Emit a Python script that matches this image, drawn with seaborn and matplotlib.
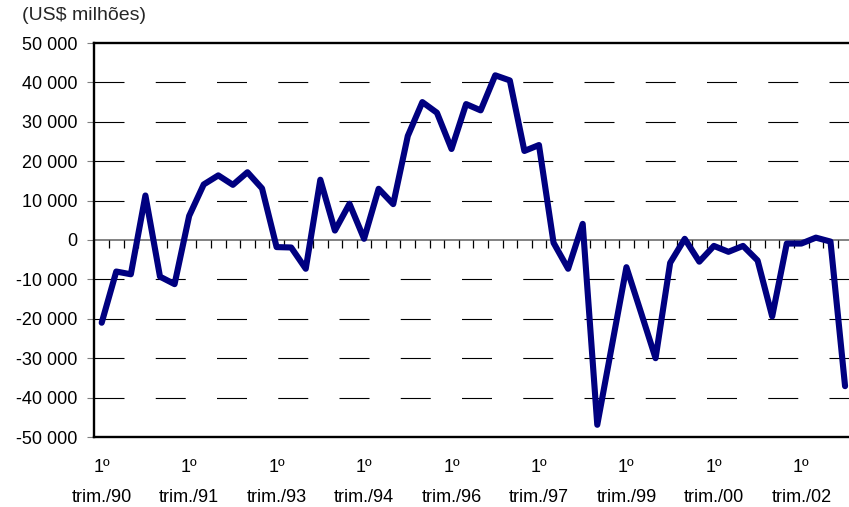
import pandas as pd
import numpy as np
import matplotlib
matplotlib.use('Agg')
import matplotlib.pyplot as plt
import seaborn as sns

# quarterly balance, 1990 Q1 .. 2002 Q4 (US$ millions)
quarters = list(range(52))
saldo = [-21000, -8000, -8700, 11300, -9300, -11200, 6100, 14100, 16400, 14000,
         17200, 13100, -1800, -1900, -7300, 15300, 2400, 9200, 300, 13000,
         9100, 26400, 35000, 32300, 23100, 34500, 32900, 41800, 40500, 22600,
         24100, -700, -7300, 4100, -46900, -26900, -6900, -18400, -30000, -5800,
         300, -5500, -1500, -3000, -1500, -5200, -19400, -900, -900, 600,
         -400, -37100]

tick_pos = [0, 6, 12, 18, 24, 30, 36, 42, 48]
tick_lab = ['1º\ntrim./90', '1º\ntrim./91', '1º\ntrim./93', '1º\ntrim./94',
            '1º\ntrim./96', '1º\ntrim./97', '1º\ntrim./99', '1º\ntrim./00',
            '1º\ntrim./02']
y_ticks = list(range(-50000, 50001, 10000))

df = pd.DataFrame({'trimestre': quarters, 'saldo': saldo})

sns.set_theme(style='white')
plt.rcParams['font.family'] = ['Liberation Sans', 'DejaVu Sans']
plt.rcParams['lines.scale_dashes'] = False

fig = plt.figure(figsize=(8.49, 5.07), dpi=100)
ax = fig.add_axes([94.4 / 849, (507 - 437) / 507, (849 - 94.4) / 849, (437 - 43) / 507])

# dashed horizontal grid (not on the frame / zero line)
for v in y_ticks:
    if v in (-50000, 0, 50000):
        continue
    ax.axhline(v, color='black', linewidth=0.8, linestyle=(0, (21.6, 22.5)), zorder=1)

# category axis crossing at zero, ticks between categories
ax.axhline(0, color='#606060', linewidth=1.1, zorder=2)
bounds = np.arange(len(quarters) - 1) + 0.5
ax.plot(bounds, np.zeros(len(bounds)), linestyle='none', marker=3,
        markersize=5.5, markeredgewidth=0.9, color='black', zorder=2)

sns.lineplot(data=df, x='trimestre', y='saldo', ax=ax, color='#000080',
             linewidth=4.4, zorder=3)
for l in ax.lines[-1:]:
    l.set_solid_joinstyle('round')
    l.set_solid_capstyle('round')

ax.set_xlim(-0.5, 51.27)
ax.set_ylim(-50000, 50000)
ax.set_yticks(y_ticks)
ax.set_yticklabels([f'{v:,}'.replace(',', ' ') for v in y_ticks], fontsize=13, color='black')
ax.set_xticks(tick_pos)
ax.set_xticklabels(tick_lab, fontsize=13, color='black', linespacing=2.0)
ax.tick_params(axis='y', direction='out', length=5, width=0.8, color='#808080', pad=7, left=True)
ax.tick_params(axis='x', length=0, pad=16)
ax.set_xlabel('')
ax.set_ylabel('')
ax.grid(False)

for side in ['top', 'left', 'bottom']:
    ax.spines[side].set_visible(True)
    ax.spines[side].set_color('black')
    ax.spines[side].set_linewidth(1.7)
ax.spines['right'].set_visible(False)

fig.text(22 / 849, 1 - 16 / 507, '(US$ milhões)', fontsize=14, va='center', ha='left')

plt.savefig('out.png', dpi=100)
